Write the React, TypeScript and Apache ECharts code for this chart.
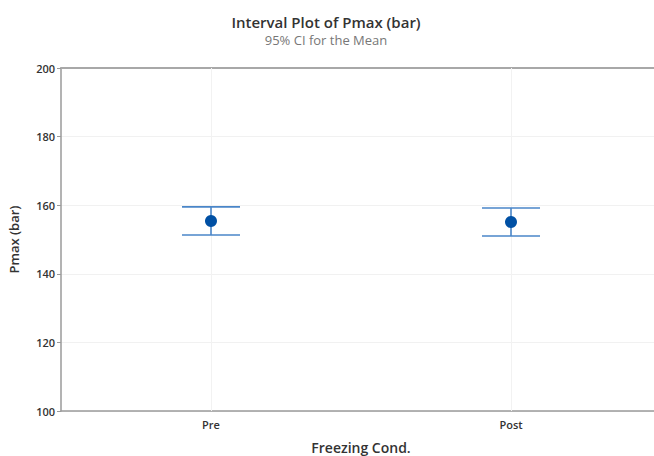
import React, { useEffect, useRef } from "react";
import * as echarts from "echarts";

const categories = ["Pre", "Post"];
const means = [155.4, 155.1];
const lowerCI = [151.3, 151.0];
const upperCI = [159.5, 159.2];
const yTicks = [100, 120, 140, 160, 180, 200];

const FONT = "'Open Sans', 'Noto Sans', sans-serif";

export default function App() {
  const ref = useRef<HTMLDivElement>(null);

  useEffect(() => {
    if (!ref.current) return;
    const chart = echarts.init(ref.current, undefined, { renderer: "svg" });

    const intervalData = categories.map((_, i) => [i, lowerCI[i], upperCI[i]]);
    const meanData = categories.map((_, i) => [i, means[i]]);

    chart.setOption({
      animation: false,
      backgroundColor: "#ffffff",
      textStyle: { fontFamily: FONT },
      title: {
        text: "Interval Plot of Pmax (bar)",
        subtext: "95% CI for the Mean",
        left: 321,
        textAlign: "center",
        top: 9,
        itemGap: 4,
        textStyle: { fontFamily: FONT, fontSize: 15, fontWeight: 600, color: "#333333" },
        subtextStyle: { fontFamily: FONT, fontSize: 13, color: "#777777" },
      },
      grid: { left: 61, top: 68, width: 600, height: 343, outerBoundsMode: "none", containLabel: false },
      xAxis: [
        {
          type: "category",
          data: categories,
          name: "Freezing Cond.",
          nameLocation: "middle",
          nameGap: 29,
          nameTextStyle: { fontFamily: FONT, fontSize: 14, fontWeight: 600, color: "#333333" },
          axisLine: { lineStyle: { color: "#9a9a9a", width: 1.5 } },
          axisTick: { alignWithLabel: true, length: 5, lineStyle: { color: "#9a9a9a" } },
          axisLabel: { fontFamily: FONT, fontSize: 11, fontWeight: 600, color: "#333333", margin: 8 },
          splitLine: { show: false },
        },
        {
          type: "category",
          data: categories,
          position: "top",
          axisLine: { lineStyle: { color: "#a8a8a8", width: 2 } },
          axisTick: { show: false },
          axisLabel: { show: false },
          splitLine: { show: false },
        },
      ],
      yAxis: {
        type: "value",
        min: 100,
        max: 200,
        interval: 20,
        name: "Pmax (bar)",
        nameLocation: "middle",
        nameGap: 41,
        nameTextStyle: { fontFamily: FONT, fontSize: 13, fontWeight: 600, color: "#333333" },
        axisLine: { show: true, lineStyle: { color: "#9a9a9a", width: 1.5 } },
        axisTick: { show: true, length: 4, lineStyle: { color: "#9a9a9a" } },
        axisLabel: {
          fontFamily: FONT,
          fontSize: 11,
          fontWeight: 600,
          color: "#333333",
          margin: 6,
          formatter: (v: number) => (yTicks.includes(v) ? String(v) : ""),
        },
        splitLine: { show: true, lineStyle: { color: "#f1f1f1" } },
      },
      series: [
        {
          type: "custom",
          xAxisIndex: 0,
          data: intervalData,
          renderItem: (params: any, api: any) => {
            const x = api.value(0);
            const lo = api.coord([x, api.value(1)]);
            const hi = api.coord([x, api.value(2)]);
            const half = 29;
            const style = { stroke: "#4a86c8", lineWidth: 1.6 };
            return {
              type: "group",
              children: [
                { type: "line", shape: { x1: lo[0], y1: lo[1], x2: hi[0], y2: hi[1] }, style },
                { type: "line", shape: { x1: hi[0] - half, y1: hi[1], x2: hi[0] + half, y2: hi[1] }, style },
                { type: "line", shape: { x1: lo[0] - half, y1: lo[1], x2: lo[0] + half, y2: lo[1] }, style },
              ],
            };
          },
          z: 2,
        },
        {
          type: "scatter",
          xAxisIndex: 0,
          data: meanData,
          symbol: "circle",
          symbolSize: 12,
          itemStyle: { color: "#0050a4", opacity: 1 },
          z: 3,
          markLine: {
            silent: true,
            symbol: "none",
            label: { show: false },
            lineStyle: { color: "#f2f2f2", type: "solid", width: 1 },
            data: categories.map((c) => ({ xAxis: c })),
            z: 1,
          },
        },
      ],
    });

    return () => chart.dispose();
  }, []);

  return <div ref={ref} style={{ width: 654, height: 456, position: "absolute", left: 0, top: 0 }} />;
}
